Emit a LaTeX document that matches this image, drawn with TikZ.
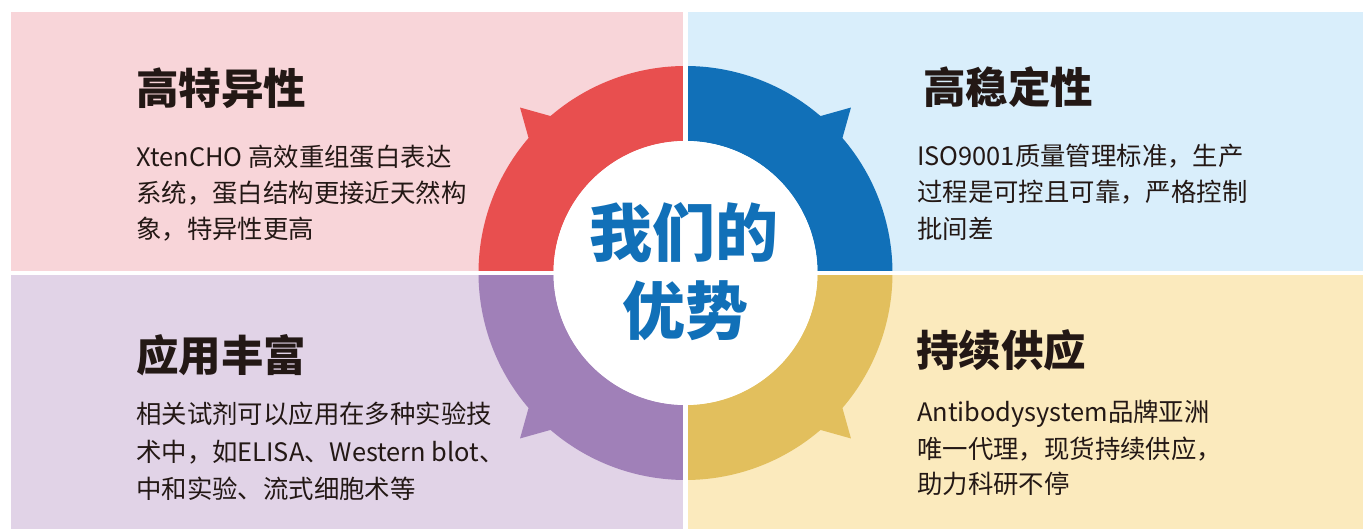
\documentclass[tikz,border=0pt]{standalone}
\usepackage{fontspec}
\newfontfamily\cjk{Noto Sans CJK SC}
\usetikzlibrary{calc}
\definecolor{bgpink}{HTML}{F8D5D9}
\definecolor{bgblue}{HTML}{D9EEFB}
\definecolor{bglav}{HTML}{E1D3E7}
\definecolor{bgyel}{HTML}{FBEABD}
\definecolor{rred}{HTML}{E84F4F}
\definecolor{rblue}{HTML}{1170B8}
\definecolor{rgold}{HTML}{E2BF5D}
\definecolor{rpurple}{HTML}{A080B8}
\definecolor{txt}{HTML}{231815}
\tikzset{
  title/.style={anchor=west, inner sep=0pt, text=txt, font=\cjk\bfseries\fontsize{42.5}{50}\selectfont, text height=37.4pt, text depth=5.1pt},
  body/.style={anchor=west, inner sep=0pt, text=txt, font=\cjk\fontsize{25.4}{30}\selectfont, text height=22.35pt, text depth=3.05pt},
  center text/.style={inner sep=0pt, text=rblue, font=\cjk\bfseries\fontsize{63}{70}\selectfont, text height=55.4pt, text depth=7.56pt},
}
\newcommand{\ringpiece}[2]{%
  \fill[#2] (#1:132pt) -- (#1:207pt)
    arc[start angle=#1, end angle={#1+45-4.3}, radius=207pt]
    -- ({#1+45}:234pt) -- ({#1+45+4.3}:207pt)
    arc[start angle={#1+45+4.3}, end angle={#1+90}, radius=207pt]
    -- ({#1+90}:132pt)
    arc[start angle={#1+90}, end angle=#1, radius=132pt] -- cycle;}
\begin{document}
\begin{tikzpicture}[x=1pt,y=1pt]
\useasboundingbox (0,0) rectangle (1363,529);
% backgrounds
\fill[bgpink] (11,258) rectangle (683,517);
\fill[bgblue] (688,258) rectangle (1363,517);
\fill[bglav] (11,0) rectangle (683,254);
\fill[bgyel] (688,0) rectangle (1363,254);
% ring
\begin{scope}[shift={(685.5,256)}]
  \ringpiece{90}{rred}
  \ringpiece{0}{rblue}
  \ringpiece{270}{rgold}
  \ringpiece{180}{rpurple}
  \fill[white] (0,0) circle[radius=132pt];
\end{scope}
% gaps
\fill[white] (683,0) rectangle (688,529);
\fill[white] (0,254) rectangle (1363,258);
% center text
\node[center text] (c1) at (684,296) {我们的};
\node[center text] (c2) at (685,218) {优势};
% top-left
\node[title] (t1) at (136,441) {高特异性};
\node[body] (t1a) at (136,372) {XtenCHO 高效重组蛋白表达};
\node[body] (t1b) at (136,336.5) {系统，蛋白结构更接近天然构};
\node[body] (t1c) at (136,300) {象，特异性更高};
% top-right
\node[title] (t2) at (923,441.5) {高稳定性};
\node[body] (t2a) at (917,373) {ISO9001质量管理标准，生产};
\node[body] (t2b) at (917,337) {过程是可控且可靠，严格控制};
\node[body] (t2c) at (917,300) {批间差};
% bottom-left
\node[title] (t3) at (136,174) {应用丰富};
\node[body] (t3a) at (136,115) {相关试剂可以应用在多种实验技};
\node[body] (t3b) at (136,77) {术中，如ELISA、Western blot、};
\node[body] (t3c) at (136,40) {中和实验、流式细胞术等};
% bottom-right
\node[title] (t4) at (916,179) {持续供应};
\node[body] (t4a) at (917,117) {Antibodysystem品牌亚洲};
\node[body] (t4b) at (917,80) {唯一代理，现货持续供应，};
\node[body] (t4c) at (917,45) {助力科研不停};
\end{tikzpicture}
\end{document}
